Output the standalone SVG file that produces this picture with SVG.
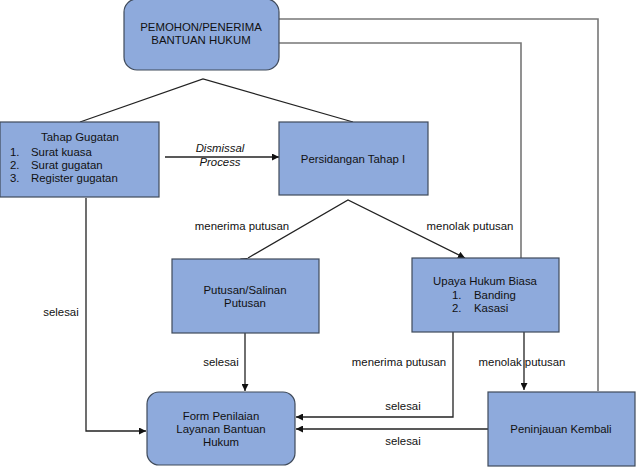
<svg xmlns="http://www.w3.org/2000/svg" width="637" height="470" viewBox="0 0 637 470">
<style>
.box{fill:#8eaadc;stroke:#3f4a5a;stroke-width:1.2}
.t{font-family:"Liberation Sans",Arial,sans-serif;font-size:11.4px;fill:#111}
.c{text-anchor:middle}
.ln{fill:none;stroke:#222;stroke-width:1.3}
.fb{fill:none;stroke:#777;stroke-width:1.6}
</style>
<defs>
<marker id="ah" viewBox="0 0 10 10" refX="10" refY="5" markerWidth="7" markerHeight="7" markerUnits="userSpaceOnUse" orient="auto">
<path d="M0,0 L10,5 L0,10 z" fill="#111"/>
</marker>
</defs>
<rect width="637" height="470" fill="#fff"/>
<g id="connectors">
<polyline class="ln" points="80,122 203,79 353,122"/>
<line class="ln" x1="165" y1="157" x2="279" y2="157" marker-end="url(#ah)"/>
<polyline class="ln" points="248,258 348,200 465,258" marker-start="url(#ah)" marker-end="url(#ah)"/>
<line class="ln" x1="245" y1="333" x2="245" y2="391" marker-end="url(#ah)"/>
<polyline class="ln" points="453,332 453,417 296,417" marker-end="url(#ah)"/>
<line class="ln" x1="524" y1="332" x2="524" y2="390" marker-end="url(#ah)"/>
<line class="ln" x1="488" y1="429" x2="296" y2="429" marker-end="url(#ah)"/>
<polyline class="ln" points="86,198 86,431 146,431" marker-end="url(#ah)"/>
<polyline class="fb" points="279,19 598,19 598,391"/>
<polyline class="fb" points="279,43 521,43 521,258"/>
<text class="t c" x="220" y="152" font-style="italic">Dismissal</text>
<text class="t c" x="220" y="166" font-style="italic">Process</text>
<text class="t c" x="242" y="230">menerima putusan</text>
<text class="t c" x="470" y="230">menolak putusan</text>
<text class="t c" x="61" y="316">selesai</text>
<text class="t c" x="221" y="366">selesai</text>
<text class="t c" x="399" y="366">menerima putusan</text>
<text class="t c" x="522" y="366">menolak putusan</text>
<text class="t c" x="403" y="410">selesai</text>
<text class="t c" x="403" y="445">selesai</text>
</g>
<g id="pemohon">
<rect class="box" x="124" y="-1" width="155" height="71" rx="13"/>
<text class="t c" x="201" y="31">PEMOHON/PENERIMA</text>
<text class="t c" x="201" y="44">BANTUAN HUKUM</text>
</g>
<g id="tahap-gugatan">
<rect class="box" x="0" y="122" width="159" height="75"/>
<text class="t c" x="80" y="141">Tahap Gugatan</text>
<text class="t" x="10" y="156">1.</text><text class="t" x="31" y="156">Surat kuasa</text>
<text class="t" x="10" y="169">2.</text><text class="t" x="31" y="169">Surat gugatan</text>
<text class="t" x="10" y="182">3.</text><text class="t" x="31" y="182">Register gugatan</text>
</g>
<g id="persidangan">
<rect class="box" x="279" y="122" width="149" height="73"/>
<text class="t c" x="353" y="163">Persidangan Tahap I</text>
</g>
<g id="putusan">
<rect class="box" x="172" y="259" width="147" height="74"/>
<text class="t c" x="245" y="294">Putusan/Salinan</text>
<text class="t c" x="245" y="307">Putusan</text>
</g>
<g id="upaya">
<rect class="box" x="412" y="258" width="147" height="74"/>
<text class="t c" x="485" y="285">Upaya Hukum Biasa</text>
<text class="t" x="452" y="299">1.</text><text class="t" x="474" y="299">Banding</text>
<text class="t" x="452" y="312">2.</text><text class="t" x="474" y="312">Kasasi</text>
</g>
<g id="form">
<rect class="box" x="147" y="392" width="148" height="73" rx="12"/>
<text class="t c" x="221" y="420">Form Penilaian</text>
<text class="t c" x="221" y="433">Layanan Bantuan</text>
<text class="t c" x="221" y="446">Hukum</text>
</g>
<g id="peninjauan">
<rect class="box" x="488" y="392" width="147" height="74"/>
<text class="t c" x="561" y="433">Peninjauan Kembali</text>
</g>
</svg>
